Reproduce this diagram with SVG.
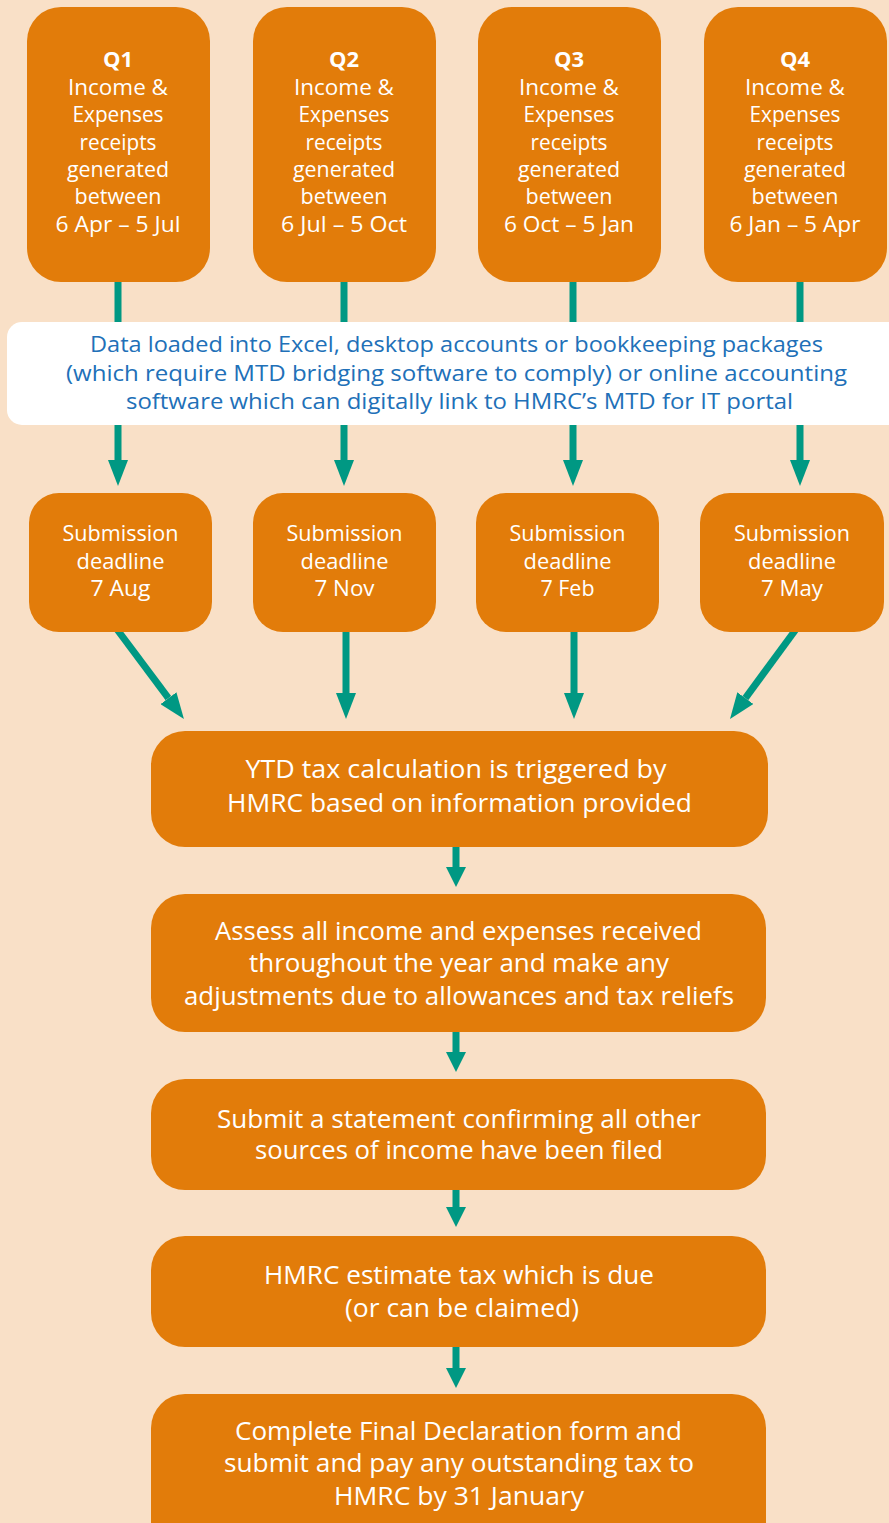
<svg xmlns="http://www.w3.org/2000/svg" width="889" height="1523" viewBox="0 0 889 1523">
<style>
.box{fill:#e27c0a}
.band{fill:#ffffff}
.t{font-family:"Open Sans","Noto Sans",sans-serif;fill:#ffffff;text-anchor:middle}
.q{font-size:21.5px}
.qb{font-size:22px;font-weight:bold}
.s{font-size:21.5px}
.b{font-size:22.5px;fill:#2170b8}
.m{font-size:25.5px}
.ln{stroke:#009883;stroke-width:7;fill:none}
</style>
<defs>
<marker id="ah" markerUnits="userSpaceOnUse" markerWidth="26" markerHeight="20" refX="0" refY="10" orient="auto" viewBox="0 0 26 20">
<path d="M0,0 L26,10 L0,20 z" fill="#009883"/>
</marker>
<marker id="ahs" markerUnits="userSpaceOnUse" markerWidth="20" markerHeight="20" refX="0" refY="10" orient="auto" viewBox="0 0 20 20">
<path d="M0,0 L20,10 L0,20 z" fill="#009883"/>
</marker>
</defs>
<rect x="0" y="0" width="889" height="1523" fill="#f9e0c7"/>
<g id="connectors">
<line class="ln" x1="118" y1="270" x2="118" y2="460" marker-end="url(#ah)"/>
<line class="ln" x1="344" y1="270" x2="344" y2="460" marker-end="url(#ah)"/>
<line class="ln" x1="573" y1="270" x2="573" y2="460" marker-end="url(#ah)"/>
<line class="ln" x1="800" y1="270" x2="800" y2="460" marker-end="url(#ah)"/>
<line class="ln" x1="113.8" y1="625" x2="168.4" y2="698.2" marker-end="url(#ah)"/>
<line class="ln" x1="346" y1="625" x2="346" y2="693" marker-end="url(#ah)"/>
<line class="ln" x1="574" y1="625" x2="574" y2="693" marker-end="url(#ah)"/>
<line class="ln" x1="799.1" y1="625" x2="745.4" y2="698.1" marker-end="url(#ah)"/>
<line class="ln" x1="456" y1="840" x2="456" y2="867" marker-end="url(#ahs)"/>
<line class="ln" x1="456" y1="1026" x2="456" y2="1052" marker-end="url(#ahs)"/>
<line class="ln" x1="456" y1="1184" x2="456" y2="1207" marker-end="url(#ahs)"/>
<line class="ln" x1="456" y1="1341" x2="456" y2="1368" marker-end="url(#ahs)"/>
</g>
<g id="q1">
<rect class="box" x="27" y="7" width="183" height="275" rx="34"/>
<text class="t qb" x="118" y="67">Q1</text>
<text class="t q" x="118" y="94.5" textLength="100" lengthAdjust="spacingAndGlyphs">Income &amp;</text>
<text class="t q" x="118" y="122" textLength="91" lengthAdjust="spacingAndGlyphs">Expenses</text>
<text class="t q" x="118" y="149.5" textLength="77" lengthAdjust="spacingAndGlyphs">receipts</text>
<text class="t q" x="118" y="177" textLength="102" lengthAdjust="spacingAndGlyphs">generated</text>
<text class="t q" x="118" y="204" textLength="87" lengthAdjust="spacingAndGlyphs">between</text>
<text class="t q" x="118" y="231.5" textLength="125" lengthAdjust="spacingAndGlyphs">6 Apr – 5 Jul</text>
</g>
<g id="q2">
<rect class="box" x="253" y="7" width="183" height="275" rx="34"/>
<text class="t qb" x="344" y="67">Q2</text>
<text class="t q" x="344" y="94.5" textLength="100" lengthAdjust="spacingAndGlyphs">Income &amp;</text>
<text class="t q" x="344" y="122" textLength="91" lengthAdjust="spacingAndGlyphs">Expenses</text>
<text class="t q" x="344" y="149.5" textLength="77" lengthAdjust="spacingAndGlyphs">receipts</text>
<text class="t q" x="344" y="177" textLength="102" lengthAdjust="spacingAndGlyphs">generated</text>
<text class="t q" x="344" y="204" textLength="87" lengthAdjust="spacingAndGlyphs">between</text>
<text class="t q" x="344" y="231.5" textLength="126" lengthAdjust="spacingAndGlyphs">6 Jul – 5 Oct</text>
</g>
<g id="q3">
<rect class="box" x="478" y="7" width="183" height="275" rx="34"/>
<text class="t qb" x="569" y="67">Q3</text>
<text class="t q" x="569" y="94.5" textLength="100" lengthAdjust="spacingAndGlyphs">Income &amp;</text>
<text class="t q" x="569" y="122" textLength="91" lengthAdjust="spacingAndGlyphs">Expenses</text>
<text class="t q" x="569" y="149.5" textLength="77" lengthAdjust="spacingAndGlyphs">receipts</text>
<text class="t q" x="569" y="177" textLength="102" lengthAdjust="spacingAndGlyphs">generated</text>
<text class="t q" x="569" y="204" textLength="87" lengthAdjust="spacingAndGlyphs">between</text>
<text class="t q" x="569" y="231.5" textLength="130" lengthAdjust="spacingAndGlyphs">6 Oct – 5 Jan</text>
</g>
<g id="q4">
<rect class="box" x="704" y="7" width="183" height="275" rx="34"/>
<text class="t qb" x="795" y="67">Q4</text>
<text class="t q" x="795" y="94.5" textLength="100" lengthAdjust="spacingAndGlyphs">Income &amp;</text>
<text class="t q" x="795" y="122" textLength="91" lengthAdjust="spacingAndGlyphs">Expenses</text>
<text class="t q" x="795" y="149.5" textLength="77" lengthAdjust="spacingAndGlyphs">receipts</text>
<text class="t q" x="795" y="177" textLength="102" lengthAdjust="spacingAndGlyphs">generated</text>
<text class="t q" x="795" y="204" textLength="87" lengthAdjust="spacingAndGlyphs">between</text>
<text class="t q" x="795" y="231.5" textLength="131" lengthAdjust="spacingAndGlyphs">6 Jan – 5 Apr</text>
</g>
<g id="data-band">
<rect class="band" x="7" y="322" width="920" height="103" rx="15"/>
<text class="t b" x="456.5" y="352" textLength="733" lengthAdjust="spacingAndGlyphs">Data loaded into Excel, desktop accounts or bookkeeping packages</text>
<text class="t b" x="456.5" y="380.5" textLength="781" lengthAdjust="spacingAndGlyphs">(which require MTD bridging software to comply) or online accounting</text>
<text class="t b" x="459.5" y="408.5" textLength="667" lengthAdjust="spacingAndGlyphs">software which can digitally link to HMRC’s MTD for IT portal</text>
</g>
<g id="sub1">
<rect class="box" x="29" y="493" width="183" height="139" rx="30"/>
<text class="t s" x="120.5" y="541" textLength="116" lengthAdjust="spacingAndGlyphs">Submission</text>
<text class="t s" x="120.5" y="568.5" textLength="88" lengthAdjust="spacingAndGlyphs">deadline</text>
<text class="t s" x="120.5" y="596" textLength="60" lengthAdjust="spacingAndGlyphs">7 Aug</text>
</g>
<g id="sub2">
<rect class="box" x="253" y="493" width="183" height="139" rx="30"/>
<text class="t s" x="344.5" y="541" textLength="116" lengthAdjust="spacingAndGlyphs">Submission</text>
<text class="t s" x="344.5" y="568.5" textLength="88" lengthAdjust="spacingAndGlyphs">deadline</text>
<text class="t s" x="344.5" y="596" textLength="60" lengthAdjust="spacingAndGlyphs">7 Nov</text>
</g>
<g id="sub3">
<rect class="box" x="476" y="493" width="183" height="139" rx="30"/>
<text class="t s" x="567.5" y="541" textLength="116" lengthAdjust="spacingAndGlyphs">Submission</text>
<text class="t s" x="567.5" y="568.5" textLength="88" lengthAdjust="spacingAndGlyphs">deadline</text>
<text class="t s" x="567.5" y="596" textLength="54" lengthAdjust="spacingAndGlyphs">7 Feb</text>
</g>
<g id="sub4">
<rect class="box" x="700" y="493" width="184" height="139" rx="30"/>
<text class="t s" x="792" y="541" textLength="116" lengthAdjust="spacingAndGlyphs">Submission</text>
<text class="t s" x="792" y="568.5" textLength="88" lengthAdjust="spacingAndGlyphs">deadline</text>
<text class="t s" x="792" y="596" textLength="62" lengthAdjust="spacingAndGlyphs">7 May</text>
</g>
<g id="ytd">
<rect class="box" x="151" y="731" width="617" height="116" rx="34"/>
<text class="t m" x="456" y="778" textLength="421" lengthAdjust="spacingAndGlyphs">YTD tax calculation is triggered by</text>
<text class="t m" x="459.5" y="811.5" textLength="465" lengthAdjust="spacingAndGlyphs">HMRC based on information provided</text>
</g>
<g id="assess">
<rect class="box" x="151" y="894" width="615" height="138" rx="34"/>
<text class="t m" x="458.5" y="940" textLength="487" lengthAdjust="spacingAndGlyphs">Assess all income and expenses received</text>
<text class="t m" x="459" y="972" textLength="420" lengthAdjust="spacingAndGlyphs">throughout the year and make any</text>
<text class="t m" x="459" y="1004.5" textLength="550" lengthAdjust="spacingAndGlyphs">adjustments due to allowances and tax reliefs</text>
</g>
<g id="statement">
<rect class="box" x="151" y="1079" width="615" height="111" rx="34"/>
<text class="t m" x="459" y="1127.5" textLength="484" lengthAdjust="spacingAndGlyphs">Submit a statement confirming all other</text>
<text class="t m" x="459" y="1159" textLength="408" lengthAdjust="spacingAndGlyphs">sources of income have been filed</text>
</g>
<g id="estimate">
<rect class="box" x="151" y="1236" width="615" height="111" rx="34"/>
<text class="t m" x="459" y="1284" textLength="390" lengthAdjust="spacingAndGlyphs">HMRC estimate tax which is due</text>
<text class="t m" x="462" y="1317" textLength="234" lengthAdjust="spacingAndGlyphs">(or can be claimed)</text>
</g>
<g id="final">
<rect class="box" x="151" y="1394" width="615" height="170" rx="34"/>
<text class="t m" x="458.5" y="1440" textLength="447" lengthAdjust="spacingAndGlyphs">Complete Final Declaration form and</text>
<text class="t m" x="459" y="1472" textLength="470" lengthAdjust="spacingAndGlyphs">submit and pay any outstanding tax to</text>
<text class="t m" x="459" y="1505" textLength="250" lengthAdjust="spacingAndGlyphs">HMRC by 31 January</text>
</g>
</svg>
